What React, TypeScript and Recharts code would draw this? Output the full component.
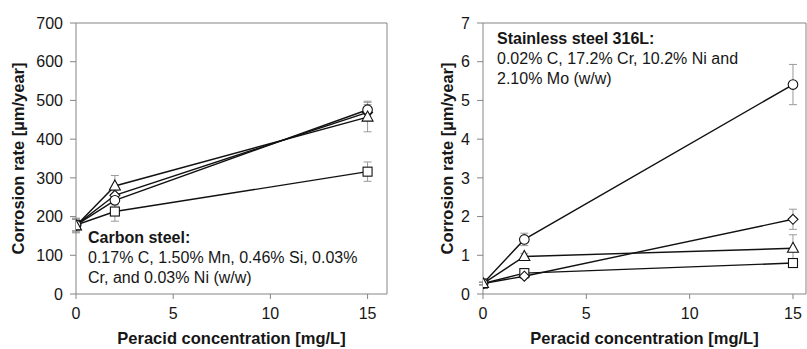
import React from 'react';
import { LineChart, Line, XAxis, YAxis, ErrorBar, ReferenceLine } from 'recharts';

// Peracid concentrations (mg/L)
const concentrations = [0, 2, 15];
const xTicks = [0, 5, 10, 15];

// Carbon steel corrosion rates (µm/year) and standard deviations
const carbonCircle = [178, 242, 476];
const carbonCircleErr = [15, 12, 22];
const carbonDiamond = [178, 255, 469];
const carbonDiamondErr = [15, 12, 20];
const carbonTriangle = [176, 279, 457];
const carbonTriangleErr = [18, 27, 38];
const carbonSquare = [178, 213, 316];
const carbonSquareErr = [18, 25, 25];
const carbonTicks = [0, 100, 200, 300, 400, 500, 600, 700];

// Stainless steel 316L corrosion rates (µm/year) and standard deviations
const ssCircle = [0.27, 1.41, 5.41];
const ssCircleErr = [0.04, 0.16, 0.52];
const ssDiamond = [0.27, 0.46, 1.93];
const ssDiamondErr = [0.03, 0.06, 0.26];
const ssTriangle = [0.27, 0.97, 1.18];
const ssTriangleErr = [0.03, 0.08, 0.35];
const ssSquare = [0.27, 0.54, 0.8];
const ssSquareErr = [0.03, 0.05, 0.06];
const ssTicks = [0, 1, 2, 3, 4, 5, 6, 7];

const FONT = 'Arial, "Liberation Sans", sans-serif';
const GRAY = '#858585';
const TEXT = '#161616';

type Shape = 'circle' | 'diamond' | 'triangle' | 'square';

const buildRows = (c: number[], ce: number[], d: number[], de: number[], t: number[], te: number[], s: number[], se: number[]) =>
  concentrations.map((x, i) => ({
    x,
    circle: c[i], circleErr: ce[i],
    diamond: d[i], diamondErr: de[i],
    triangle: t[i], triangleErr: te[i],
    square: s[i], squareErr: se[i],
  }));

const carbonRows = buildRows(carbonCircle, carbonCircleErr, carbonDiamond, carbonDiamondErr, carbonTriangle, carbonTriangleErr, carbonSquare, carbonSquareErr);
const ssRows = buildRows(ssCircle, ssCircleErr, ssDiamond, ssDiamondErr, ssTriangle, ssTriangleErr, ssSquare, ssSquareErr);

const marker = (shape: Shape) => (props: any) => {
  const { cx, cy, index } = props;
  if (cx == null || cy == null) return <g key={`m-${shape}-${index}`} />;
  const common = { fill: '#fff', stroke: '#111', strokeWidth: 1.1 };
  const k = `m-${shape}-${index}`;
  if (shape === 'circle') return <circle key={k} cx={cx} cy={cy} r={4.8} {...common} />;
  if (shape === 'square') return <rect key={k} x={cx - 4.5} y={cy - 4.5} width={9} height={9} {...common} />;
  if (shape === 'diamond')
    return <polygon key={k} points={`${cx},${cy - 5} ${cx + 5},${cy} ${cx},${cy + 5} ${cx - 5},${cy}`} {...common} />;
  return <polygon key={k} points={`${cx},${cy - 6} ${cx + 5.5},${cy + 4} ${cx - 5.5},${cy + 4}`} {...common} />;
};

const seriesOrder: Shape[] = ['square', 'diamond', 'circle', 'triangle'];

const yLabel = (x: number) => (props: any) => {
  const vb = props.viewBox || {};
  const cy = vb.y + vb.height / 2;
  return (
    <text x={x} y={cy} transform={`rotate(-90 ${x} ${cy})`} textAnchor="middle" dominantBaseline="central"
      fontFamily={FONT} fontSize={16.5} fontWeight="bold" fill={TEXT}>
      Corrosion rate [µm/year]
    </text>
  );
};

const xLabel = (props: any) => {
  const vb = props.viewBox || {};
  return (
    <text x={vb.x + vb.width / 2} y={vb.y + 50} textAnchor="middle" fontFamily={FONT} fontSize={16.5}
      fontWeight="bold" fill={TEXT}>
      Peracid concentration [mg/L]
    </text>
  );
};

interface PanelProps {
  rows: any[];
  xMax: number;
  yMax: number;
  yTicks: number[];
  yAxisWidth: number;
  plotWidth: number;
  yLabelX: number;
  width: number;
  note: { title: string; lines: string[]; x: number; y: number };
}

const Panel = ({ rows, xMax, yMax, yTicks, yAxisWidth, plotWidth, yLabelX, width, note }: PanelProps) => (
  <LineChart width={width} height={349} data={rows} margin={{ top: 23, right: width - yAxisWidth - plotWidth, left: 0, bottom: 0 }}>
    <XAxis dataKey="x" type="number" domain={[0, xMax]} ticks={xTicks} allowDataOverflow height={55}
      stroke={GRAY} tickSize={5} tickMargin={9}
      tick={{ fill: TEXT, fontSize: 16, fontFamily: FONT }}
      label={{ content: xLabel }} />
    <YAxis type="number" domain={[0, yMax]} ticks={yTicks} allowDataOverflow width={yAxisWidth}
      stroke={GRAY} tickSize={6} tickMargin={7}
      tick={{ fill: TEXT, fontSize: 16, fontFamily: FONT }}
      label={{ content: yLabel(yLabelX) }} />
    <ReferenceLine y={yMax} stroke={GRAY} strokeWidth={1} />
    <ReferenceLine x={xMax} stroke={GRAY} strokeWidth={1} />
    {seriesOrder.map((s) => (
      <Line key={s} dataKey={s} stroke="#111" strokeWidth={1.4} dot={marker(s)} activeDot={false}
        isAnimationActive={false}>
        <ErrorBar dataKey={`${s}Err`} direction="y" width={4} stroke="#9a9a9a" strokeWidth={1} />
      </Line>
    ))}
    <text fontFamily={FONT} fontSize={16} fill={TEXT}>
      <tspan x={note.x} y={note.y} fontWeight="bold">{note.title}</tspan>
      {note.lines.map((l, i) => (
        <tspan key={i} x={note.x} y={note.y + 20 * (i + 1)}>{l}</tspan>
      ))}
    </text>
  </LineChart>
);

export default function App() {
  return (
    <div style={{ position: 'absolute', left: 0, top: 0, width: 807, height: 349, background: '#fff' }}>
      <div style={{ position: 'absolute', left: 0, top: 0 }}>
        <Panel rows={carbonRows} xMax={16} yMax={700} yTicks={carbonTicks} yAxisWidth={76} plotWidth={311}
          yLabelX={18} width={400}
          note={{ title: 'Carbon steel:', lines: ['0.17% C, 1.50% Mn, 0.46% Si, 0.03%', 'Cr, and 0.03% Ni (w/w)'], x: 88, y: 243 }} />
      </div>
      <div style={{ position: 'absolute', left: 400, top: 0 }}>
        <Panel rows={ssRows} xMax={15.63} yMax={7} yTicks={ssTicks} yAxisWidth={83} plotWidth={323}
          yLabelX={47} width={407}
          note={{ title: 'Stainless steel 316L:', lines: ['0.02% C, 17.2% Cr, 10.2% Ni and', '2.10% Mo (w/w)'], x: 97, y: 44 }} />
      </div>
    </div>
  );
}
